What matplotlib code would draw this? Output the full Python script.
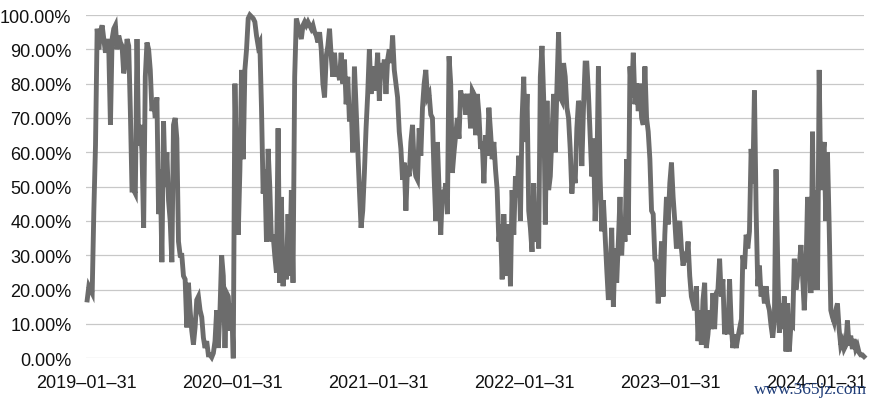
import numpy as np
import pandas as pd
import matplotlib
matplotlib.use("Agg")
import matplotlib.pyplot as plt
import matplotlib.dates as mdates
from matplotlib.ticker import PercentFormatter, MultipleLocator

plt.rcParams['font.family'] = ['Liberation Sans', 'DejaVu Sans']

# values (%), left to right, in segments
seg1 = [17, 21, 20, 19, 43, 62, 96, 90, 95, 97, 93, 89, 93, 90, 68, 93, 96, 97, 90, 94,
        92, 91, 83, 86, 93, 91, 72, 49, 49, 48, 93, 62, 68, 60, 38, 82, 92, 90, 84, 72,
        75, 70, 76, 42, 55, 28, 69, 50, 60, 46, 40]
seg2 = [28, 68, 70, 64, 34, 30, 30, 24, 23, 9, 22, 14, 8, 4, 9, 17, 18, 14, 12, 6,
        3, 5, 1, 1, 0.3, 1.5, 5, 14, 3, 14, 30, 24, 3, 19, 18, 8, 16, 0, 80, 53,
        36, 55, 84, 58, 84, 90, 99, 100, 99.5, 99, 98, 94, 91]
seg3 = [92, 73, 48, 55, 34, 61, 50, 34, 36, 30, 25, 67, 22, 47, 21, 32, 23, 42, 24, 49,
        22, 82, 99, 97, 95, 93, 97, 98, 97, 98, 97, 96, 97, 95, 94, 92, 95, 90, 80, 76,
        88, 91, 96, 88, 82, 89, 82, 85, 81, 89, 80, 87, 74]
seg4 = [82, 69, 74, 60, 85, 73, 61, 49, 38, 43, 54, 67, 77, 90, 77, 85, 78, 81, 89, 75,
        86, 82, 87, 77, 87, 90, 86, 94, 84, 80, 76, 66, 61, 52, 57, 43, 56, 53, 63, 68,
        56, 53, 52, 67, 59, 73, 80, 84, 76, 77, 71, 70, 53]
seg5 = [40, 63, 49, 36, 49, 47, 51, 42, 88, 80, 54, 60, 65, 70, 64, 78, 74, 77, 71, 77,
        75, 67, 78, 77, 65, 77, 71, 61, 63, 51, 65, 59, 73, 66, 58, 63, 55, 49, 34, 39,
        23, 42, 31, 24, 39, 21, 49, 36, 53, 47, 59, 40, 70]
seg6 = [82, 63, 77, 43, 38, 31, 51, 34, 42, 32, 82, 91, 76, 39, 75, 49, 53, 65, 77, 60,
        79, 95, 76, 75, 86, 82, 73, 70, 61, 48, 55, 51, 67, 75, 73, 56, 73, 86, 86, 77,
        65, 53, 64, 40, 53, 85, 53, 37, 46, 36, 26, 17, 24]
seg7 = [38, 15, 32, 22, 34, 47, 30, 41, 34, 58, 36, 85, 76, 89, 74, 80, 72, 80, 70, 68,
        85, 70, 66, 58, 43, 42, 29, 28, 16, 23, 34, 18, 36, 47, 39, 51, 57, 47, 40, 32,
        38, 40, 32, 27, 31, 28, 34, 24, 18, 16, 14, 21, 5]
seg8 = [14, 4, 17, 22, 3, 7, 14, 8.5, 19, 8.5, 19, 20, 29, 18, 23, 7, 11, 7, 23, 10,
        3, 7, 3, 6, 8.5, 7, 30, 26, 36, 32, 37, 61, 51, 78, 43, 21, 27, 18, 21, 16,
        21, 16, 14, 9.5, 6, 11, 55, 28, 7.5, 16, 8.5, 18, 2]
seg9 = [16, 2, 10, 9.5, 29, 20, 24, 27, 33, 24, 14, 25, 47, 40, 19, 66, 20, 49, 20, 84,
        49, 58, 63, 40, 60, 39, 14, 12, 10.5, 14, 16, 8.5, 3.7, 5, 2.7, 3.7, 11, 3.7, 6.6, 2.7,
        5.6, 2.7, 3.7, 1.7, 1, 1, 0.5]

values = seg1 + seg2 + seg3 + seg4 + seg5 + seg6 + seg7 + seg8 + seg9
first_date = '2019-02-03'
last_date = '2024-05-28'
tick_labels = ['2019-01-31', '2020-01-31', '2021-01-31', '2022-01-31', '2023-01-31', '2024-01-31']

dates = pd.date_range(first_date, last_date, periods=len(values))

fig = plt.figure(figsize=(8.78, 4.06), dpi=100)
ax = fig.add_axes([86 / 878, 1 - 359.3 / 406, 778 / 878, 343.3 / 406])

ax.plot(dates, values, color='#6c6c6c', lw=3.5, solid_joinstyle='miter', clip_on=False, zorder=3)

ax.set_ylim(0, 100)
ax.set_xlim(pd.Timestamp('2019-01-31'), pd.Timestamp(last_date))
ax.yaxis.set_major_locator(MultipleLocator(10))
ax.yaxis.set_major_formatter(PercentFormatter(xmax=100, decimals=2))
ax.set_xticks(pd.to_datetime(tick_labels))
ax.set_xticklabels([t.replace('-', '\u2013') for t in tick_labels])

ax.grid(axis='y', color='#c8c8c8', lw=0.9)
ax.set_axisbelow(True)
for s in ax.spines.values():
    s.set_visible(False)
ax.tick_params(axis='both', length=0, labelsize=13, colors='#111111')
ax.tick_params(axis='y', pad=10.5)
ax.tick_params(axis='x', pad=11)

fig.text(0.988, 0.04, 'www.365jz.com', ha='right', va='center',
         family=['Liberation Serif', 'DejaVu Serif'], fontsize=12.5, color='#1e3c78')

fig.savefig('out.png', dpi=100)
